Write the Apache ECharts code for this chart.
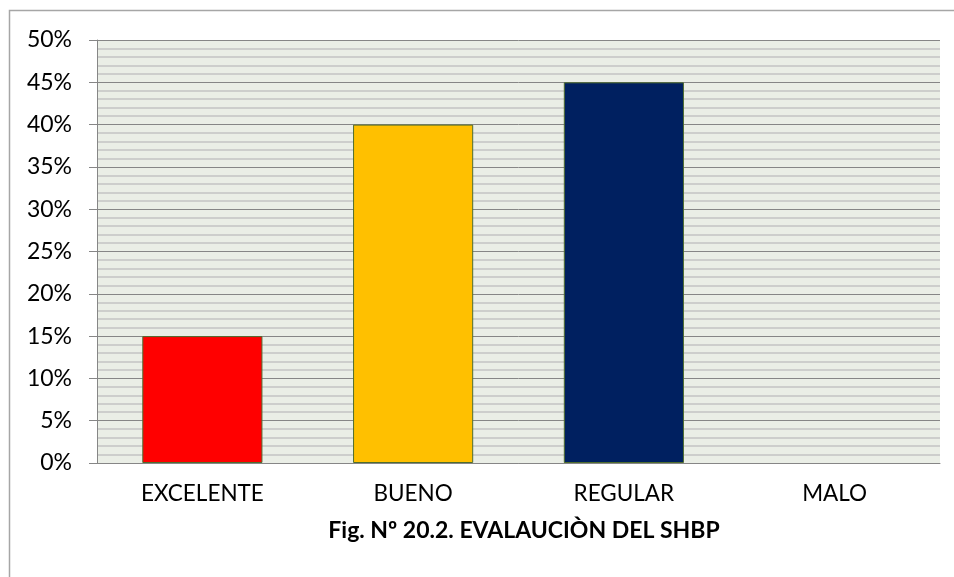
<!DOCTYPE html>
<html><head><meta charset="utf-8">
<script src="https://cdn.jsdelivr.net/npm/echarts@6/dist/echarts.min.js"></script>
<style>html,body{margin:0;padding:0;background:#fff}#c{width:954px;height:577px}</style>
</head><body><div id="c"></div>
<script>
const categories = ['EXCELENTE', 'BUENO', 'REGULAR', 'MALO'];
const values = [15, 40, 45, 0];
const barColors = ['#ff0000', '#ffc000', '#002060', '#7f7f7f'];
const yTicks = [0, 5, 10, 15, 20, 25, 30, 35, 40, 45, 50];
const title = 'Fig. Nº 20.2. EVALAUCIÒN DEL SHBP';

const chart = echarts.init(document.getElementById('c'));
const font = 'Lato, "Open Sans", sans-serif';
chart.setOption({
  animation: false,
  graphic: [{
    type: 'polyline', shape: { points: [[9.5, 580], [9.5, 10.5], [960, 10.5]] },
    style: { stroke: '#a6a6a6', lineWidth: 1.5, fill: null }, silent: true
  }],
  title: {
    text: title, left: 519, top: 514, textAlign: 'center',
    textStyle: { fontFamily: font, fontSize: 23, fontWeight: 'bold', color: '#000' }
  },
  grid: {
    left: 97, right: 14, top: 40, bottom: 114,
    show: true, backgroundColor: '#eaeee6', borderWidth: 0
  },
  xAxis: {
    type: 'category', data: categories,
    axisLine: { lineStyle: { color: '#868686', width: 1 } },
    axisTick: { show: false },
    axisLabel: { fontFamily: font, fontSize: 22.5, color: '#000', margin: 19 }
  },
  yAxis: {
    type: 'value', min: 0, max: 50, interval: 5,
    axisLine: { show: true, lineStyle: { color: '#868686' } },
    axisTick: { show: true, length: 8, inside: false, lineStyle: { color: '#868686' } },
    axisLabel: {
      fontFamily: font, fontSize: 23, color: '#000', margin: 25,
      formatter: v => yTicks.includes(v) ? v + '%' : ''
    },
    splitLine: { show: true, lineStyle: { color: '#868686', width: 1 } },
    minorTick: { show: false, splitNumber: 5 },
    minorSplitLine: { show: true, lineStyle: { color: '#c3c3c3', width: 1.5 } }
  },
  series: [{
    type: 'bar',
    data: values.map((v, i) => ({
      value: v,
      itemStyle: { color: barColors[i], borderWidth: v === 0 ? 0 : 1 }
    })),
    barWidth: '57%',
    itemStyle: { borderColor: '#4f6d2f', borderWidth: 1 }
  }]
});
</script></body></html>
